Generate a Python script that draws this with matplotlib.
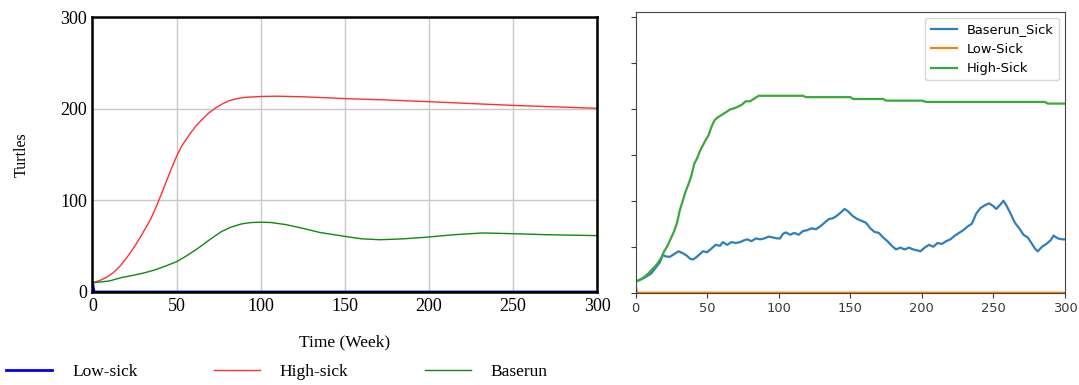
import matplotlib
matplotlib.use("Agg")
import matplotlib.pyplot as plt

# left panel (system dynamics run)
t_low = [0, 1, 300]
low_sick = [10, 0, 0]

t_high = [0, 5, 9, 13, 17, 21, 25, 28.5, 32, 35, 38, 41, 44, 47, 50, 53, 57, 61,
          65, 69, 73, 77, 81, 86, 91, 100, 110, 125, 150, 175, 200, 225, 250,
          275, 300]
high_sick = [10, 13, 16.7, 22, 29.5, 39, 49.5, 60, 71, 81, 93.5, 107, 121,
             135, 148, 159, 170, 180, 188, 195, 200.5, 205, 208.5, 211, 212.4,
             213.3, 213.6, 213, 211, 209.5, 207.6, 205.6, 203.6, 202, 200.4]

t_base = [0, 10, 17, 25, 30, 37, 43, 50, 56, 62.7, 70, 76.6, 82, 88.5, 94, 100,
          106, 115, 125, 135, 150, 160, 171, 185, 200, 215, 232, 250, 270, 300]
baserun = [10, 12, 15.6, 18.5, 20.5, 24, 28, 33, 39.5, 47.6, 57.5, 65.8, 70.5,
           74.2, 75.7, 76.2, 75.8, 73.5, 69.5, 65, 60.7, 58, 57, 58, 60, 62.5,
           64.4, 63.6, 62.5, 61.5]

# right panel (agent based run)
t_bs = [0, 3, 6, 8, 11, 14, 17, 19, 21, 24, 27, 30, 33, 36, 38, 40, 42, 45, 47,
        50, 53, 56, 59, 61, 64, 67, 70, 73, 76, 78, 81, 84, 87, 90, 93, 96, 99,
        101, 103, 105, 108, 111, 114, 117, 120, 123, 126, 129, 132, 135, 138,
        141, 144, 146, 148, 150, 152, 155, 158, 161, 164, 167, 170, 173, 176,
        179, 182, 185, 188, 191, 194, 197, 199, 202, 205, 208, 211, 214, 217,
        220, 223, 226, 229, 232, 235, 238, 241, 244, 247, 250, 252, 255, 257,
        259, 262, 265, 268, 271, 274, 277, 279, 281, 284, 287, 290, 292, 295,
        298, 300]
baserun_sick = [12, 14, 16, 18, 21, 27, 33, 41, 39.5, 39, 42, 45, 43, 40, 37, 36,
                38, 42, 45, 44, 48, 52, 51, 55, 52, 55, 54, 55, 57, 58, 56, 59,
                58, 59, 61, 60, 59, 59, 64, 65.5, 63, 65, 63, 67, 68, 70, 69, 72,
                76, 80, 81, 84, 88, 91, 89, 86, 83, 80, 78, 76, 70, 66, 65, 60,
                56, 51, 47, 49, 47, 49, 47, 46, 45, 49, 52, 50, 54, 53, 56, 58,
                62, 65, 68, 72, 75, 86, 92, 95, 97, 94, 91, 96, 100, 95, 86, 76,
                70, 63, 60, 53, 48, 45, 50, 53, 57, 62, 59, 58, 58]

t_ls = [0, 1, 300]
low_sick_abm = [10, 0, 0]

t_hs = [0, 3, 6, 9, 12, 15, 18, 20, 22, 25, 27, 29, 31, 33, 35, 37, 39, 41, 43,
        45, 47, 49, 51, 53, 55, 57, 60, 63, 66, 70, 74, 77, 80, 83, 86, 117,
        119, 150, 152, 173, 175, 200, 203, 286, 288, 300]
high_sick_abm = [12, 14, 17, 21, 26, 31, 38, 45, 50, 60, 67, 76, 90, 100, 110,
                 118, 127, 140, 146, 154, 160, 166, 171, 180, 187, 190, 193,
                 196, 199, 201, 204, 208, 208, 211, 214, 214, 212.5, 212.5,
                 210.5, 210.5, 208.7, 208.7, 207.3, 207.3, 205.5, 205.5]

fig = plt.figure(figsize=(10.79, 3.85), dpi=100)

serif = "Liberation Serif"
ax1 = fig.add_axes([0.0857, 0.2416, 0.4676, 0.7142])
l1, = ax1.plot(t_low, low_sick, color="#0000ee", lw=2)
l2, = ax1.plot(t_high, high_sick, color="#ff3030", lw=1)
l3, = ax1.plot(t_base, baserun, color="#118811", lw=1)
ax1.set_xlim(0, 300)
ax1.set_ylim(0, 300)
ax1.set_xticks(range(0, 301, 50))
ax1.set_yticks([0, 100, 200, 300])
ax1.grid(True, color="#c8c8c8", lw=1)
ax1.set_axisbelow(True)
for s in ax1.spines.values():
    s.set_linewidth(1.8)
    s.set_color("black")
ax1.tick_params(length=0, pad=4, labelsize=13)
for lab in ax1.get_xticklabels() + ax1.get_yticklabels():
    lab.set_family(serif)
ax1.set_xlabel("Time (Week)", family=serif, fontsize=12.5, labelpad=14)
ax1.set_ylabel("Turtles", family=serif, fontsize=11.5, labelpad=22)

fig.legend([l1, l2, l3], ["Low-sick", "High-sick", "Baserun"], ncol=3,
           loc="center left", bbox_to_anchor=(6 / 1079, 1 - 372 / 385),
           frameon=False, handlelength=2.65, handletextpad=1.15,
           columnspacing=4.4, borderpad=0, borderaxespad=0,
           prop={"family": serif, "size": 12.5})

ax2 = fig.add_axes([0.589, 0.2397, 0.398, 0.7291])
ax2.plot(t_bs, baserun_sick, color="#2f7fba", lw=1.6, label="Baserun_Sick")
ax2.plot(t_ls, low_sick_abm, color="#ff7f0e", lw=1.6, label="Low-Sick")
ax2.plot(t_hs, high_sick_abm, color="#3aa83a", lw=1.6, label="High-Sick")
ax2.set_xlim(0, 300)
ax2.set_ylim(0, 305)
ax2.set_xticks(range(0, 301, 50))
ax2.set_yticks(range(0, 301, 50))
ax2.set_yticklabels([])
ax2.tick_params(colors="#3a3a3a", labelsize=9.4, length=3.3)
for s in ax2.spines.values():
    s.set_color("#444444")
ax2.legend(loc="upper right", fontsize=9.4, borderaxespad=0.45)

fig.savefig("out.png", dpi=100)
